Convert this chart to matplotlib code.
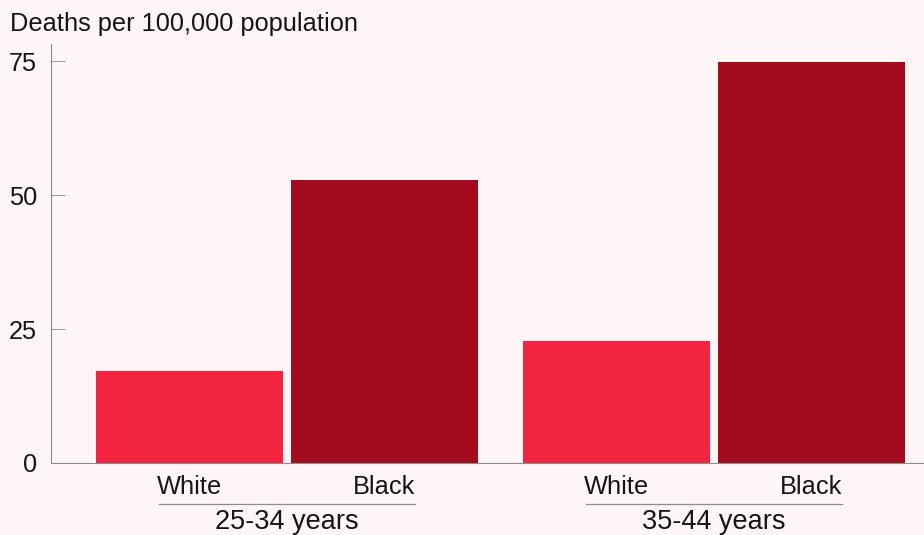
import numpy as np
import matplotlib
matplotlib.use('Agg')
import matplotlib.pyplot as plt
import matplotlib.transforms as mtransforms

plt.rcParams['font.family'] = ['Liberation Sans', 'DejaVu Sans']

# data
age_groups = ['25-34 years', '35-44 years']
races = ['White', 'Black']
white_rates = [17.2, 22.8]
black_rates = [52.8, 74.8]
y_ticks = [0, 25, 50, 75]

BG_COLOR = '#fdf5f6'
WHITE_COLOR = '#f2243f'
BLACK_COLOR = '#a30b1f'
AXIS_COLOR = '#8c8c8c'
TEXT_COLOR = '#151515'
FONTSIZE = 18.3
GROUP_FONTSIZE = 19.5

fig = plt.figure(figsize=(9.24, 5.35), dpi=100, facecolor=BG_COLOR)
ax = fig.add_axes([51 / 924, 1 - 463 / 535, 1 - 51 / 924, (463 - 44) / 535])
ax.set_facecolor(BG_COLOR)

group_pos = np.arange(len(age_groups))
offset = 0.228
bar_width = 0.438

ax.bar(group_pos - offset, white_rates, width=bar_width, color=WHITE_COLOR, linewidth=0)
ax.bar(group_pos + offset, black_rates, width=bar_width, color=BLACK_COLOR, linewidth=0)

ax.set_xlim(-0.553, 1.492)
ax.set_ylim(0, 78.2)

# Achsen
for side in ['top', 'right']:
	ax.spines[side].set_visible(False)
for side in ['left', 'bottom']:
	ax.spines[side].set_color(AXIS_COLOR)
	ax.spines[side].set_linewidth(0.8)

ax.set_yticks(y_ticks)
ax.set_yticklabels([str(v) for v in y_ticks], fontsize=FONTSIZE, color=TEXT_COLOR)
ax.tick_params(axis='y', direction='in', length=10, width=0.6, color=AXIS_COLOR, pad=10)

# Kategorien unter den Balken
bar_centers = []
bar_labels = []
for g in group_pos:
	bar_centers += [g - offset, g + offset]
	bar_labels += races
ax.set_xticks(bar_centers)
ax.set_xticklabels(bar_labels, fontsize=FONTSIZE, color=TEXT_COLOR)
ax.tick_params(axis='x', length=0, pad=9)

trans = mtransforms.blended_transform_factory(ax.transData, fig.transFigure)
for g, name in zip(group_pos, age_groups):
	ax.plot([g - 0.30, g + 0.30], [1 - 504 / 535] * 2, transform=trans, color=AXIS_COLOR,
	        linewidth=0.9, clip_on=False)
	ax.text(g, 1 - 529 / 535, name, transform=trans, ha='center', va='baseline',
	        fontsize=GROUP_FONTSIZE, color=TEXT_COLOR)

fig.text(10 / 924, 1 - 31 / 535, 'Deaths per 100,000 population', ha='left', va='baseline',
         fontsize=FONTSIZE, color=TEXT_COLOR)

plt.savefig('out.png', dpi=100, facecolor=BG_COLOR)
